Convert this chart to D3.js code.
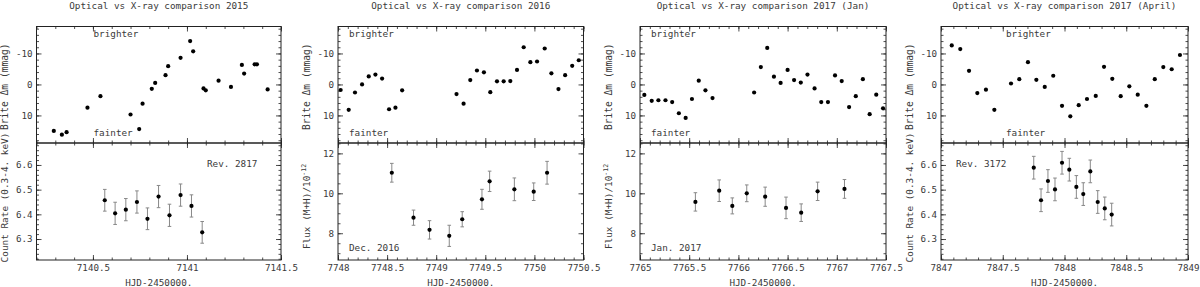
<!DOCTYPE html>
<html>
<head>
<meta charset="utf-8">
<script src="https://cdn.jsdelivr.net/npm/d3@7"></script>
<style>
  body { margin: 0; background: #fff; }
  svg { display: block; }
</style>
</head>
<body>
<div id="chart"></div>
<script>
// ---- values ----

// 2015 run
var opt2015Time = [7140.292, 7140.335, 7140.36, 7140.471, 7140.54, 7140.70, 7140.746, 7140.764, 7140.813, 7140.831, 7140.886, 7140.90, 7140.966, 7141.017, 7141.033, 7141.088, 7141.10, 7141.168, 7141.234, 7141.292, 7141.304, 7141.36, 7141.372, 7141.429];
var opt2015Mag = [15.0, 16.2, 15.4, 7.5, 3.8, 9.7, 14.4, 6.2, 1.4, -0.5, -3.0, -5.9, -8.6, -14.0, -10.7, 1.3, 1.9, -1.2, 0.8, -6.3, -3.5, -6.5, -6.5, 1.6];
var xr2015Time = [7140.563, 7140.618, 7140.675, 7140.734, 7140.79, 7140.849, 7140.907, 7140.966, 7141.024, 7141.081];
var xr2015Rate = [6.457, 6.404, 6.419, 6.45, 6.382, 6.472, 6.396, 6.478, 6.434, 6.327];
var xr2015Err = [0.044, 0.045, 0.045, 0.045, 0.044, 0.045, 0.045, 0.045, 0.045, 0.044];

// 2016 (Dec.)
var opt2016Time = [7748.027, 7748.109, 7748.173, 7748.245, 7748.313, 7748.381, 7748.449, 7748.52, 7748.585, 7748.653, 7749.207, 7749.279, 7749.347, 7749.415, 7749.486, 7749.551, 7749.619, 7749.687, 7749.755, 7749.823, 7749.891, 7749.959, 7750.027, 7750.105, 7750.173, 7750.245, 7750.313, 7750.385, 7750.452];
var opt2016Mag = [1.8, 8.2, 2.6, 0.0, -2.6, -3.2, -1.9, 8.0, 7.5, 1.9, 3.1, 6.2, -1.4, -4.5, -3.9, 2.5, -1.0, -1.0, -1.1, -4.7, -12.0, -7.2, -7.4, -11.6, -3.6, 1.5, -3.0, -6.0, -7.8];
var xr2016Time = [7748.548, 7748.769, 7748.932, 7749.133, 7749.265, 7749.466, 7749.544, 7749.796, 7749.993, 7750.129];
var xr2016Flux = [11.03, 8.78, 8.17, 7.87, 8.7, 9.7, 10.6, 10.2, 10.08, 11.03];
var xr2016Err = [0.47, 0.38, 0.46, 0.53, 0.38, 0.5, 0.51, 0.57, 0.44, 0.57];

// 2017 (Jan)
var opt2017aTime = [7765.044, 7765.119, 7765.187, 7765.259, 7765.327, 7765.395, 7765.464, 7765.528, 7765.597, 7765.665, 7765.737, 7766.16, 7766.228, 7766.293, 7766.361, 7766.429, 7766.5, 7766.566, 7766.634, 7766.702, 7766.774, 7766.842, 7766.91, 7766.982, 7767.05, 7767.125, 7767.193, 7767.265, 7767.334, 7767.401, 7767.47];
var opt2017aMag = [3.4, 5.3, 5.1, 5.1, 5.7, 9.3, 10.8, 4.7, -1.2, 1.9, 4.4, 2.6, -5.6, -11.8, -2.5, -0.5, -4.7, -1.4, -0.6, -3.2, 1.3, 5.7, 5.7, -2.9, -1.1, 7.3, 3.8, -1.7, 9.6, 3.3, 7.7];
var xr2017aTime = [7765.563, 7765.805, 7765.938, 7766.085, 7766.272, 7766.484, 7766.638, 7766.805, 7767.078];
var xr2017aFlux = [9.57, 10.13, 9.37, 10.0, 9.83, 9.27, 9.03, 10.1, 10.22];
var xr2017aErr = [0.46, 0.54, 0.4, 0.42, 0.48, 0.54, 0.44, 0.46, 0.47];

// 2017 (April)
var opt2017bTime = [7847.087, 7847.156, 7847.227, 7847.294, 7847.364, 7847.432, 7847.567, 7847.634, 7847.704, 7847.772, 7847.84, 7847.909, 7847.98, 7848.047, 7848.115, 7848.182, 7848.253, 7848.32, 7848.387, 7848.455, 7848.525, 7848.593, 7848.663, 7848.731, 7848.8, 7848.868, 7848.935];
var opt2017bMag = [-12.6, -11.4, -4.4, 2.8, 1.7, 8.2, -0.3, -1.7, -7.2, -1.5, 0.8, -2.8, 6.9, 10.3, 6.7, 4.7, 3.7, -5.7, -1.8, 3.8, 0.6, 3.3, 6.9, -1.7, -5.6, -4.9, -9.5];
var xr2017bTime = [7847.751, 7847.81, 7847.866, 7847.923, 7847.98, 7848.039, 7848.096, 7848.152, 7848.209, 7848.269, 7848.326, 7848.382];
var xr2017bRate = [6.589, 6.457, 6.535, 6.501, 6.609, 6.581, 6.511, 6.482, 6.574, 6.45, 6.424, 6.399];
var xr2017bErr = [0.046, 0.046, 0.046, 0.046, 0.046, 0.046, 0.046, 0.046, 0.046, 0.046, 0.046, 0.046];

// tick labels
var magTicks = [-10, 0, 10];
var rateTicks = [6.3, 6.4, 6.5, 6.6];
var fluxTicks = [8, 10, 12];
var hjdTicks2015 = [7140.5, 7141, 7141.5];
var hjdTicks2016 = [7748, 7748.5, 7749, 7749.5, 7750, 7750.5];
var hjdTicks2017a = [7765, 7765.5, 7766, 7766.5, 7767, 7767.5];
var hjdTicks2017b = [7847, 7847.5, 7848, 7848.5, 7849];

// ---- layout ----
var W = 1200, H = 287;
var TOP = 26.5, MID = 143, BOT = 260;
var FONT = '"DejaVu Sans Mono", monospace';
var INK = '#222';
var TEXT = '#3a3a3a';

var panels = [
    { title: 'Optical vs X-ray comparison 2015', left: 36.5, right: 281, xDomain: [7140.2, 7141.5], xTicks: hjdTicks2015,
      optT: opt2015Time, optM: opt2015Mag, xrT: xr2015Time, xrV: xr2015Rate, xrE: xr2015Err,
      kind: 'rate', note: 'Rev. 2817', noteX: 170.5, brightX: 57 },
    { title: 'Optical vs X-ray comparison 2016', left: 338, right: 583.5, xDomain: [7748, 7750.5], xTicks: hjdTicks2016,
      optT: opt2016Time, optM: opt2016Mag, xrT: xr2016Time, xrV: xr2016Flux, xrE: xr2016Err,
      kind: 'flux', note: 'Dec. 2016', noteX: 11, brightX: 11 },
    { title: 'Optical vs X-ray comparison 2017 (Jan)', left: 640, right: 886, xDomain: [7765, 7767.5], xTicks: hjdTicks2017a,
      optT: opt2017aTime, optM: opt2017aMag, xrT: xr2017aTime, xrV: xr2017aFlux, xrE: xr2017aErr,
      kind: 'flux', note: 'Jan. 2017', noteX: 11, brightX: 11 },
    { title: 'Optical vs X-ray comparison 2017 (April)', left: 941, right: 1188, xDomain: [7847, 7849], xTicks: hjdTicks2017b,
      optT: opt2017bTime, optM: opt2017bMag, xrT: xr2017bTime, xrV: xr2017bRate, xrE: xr2017bErr,
      kind: 'rate', note: 'Rev. 3172', noteX: 15, brightX: 65 }
];

var svg = d3.select('#chart').append('svg')
    .attr('width', W)
    .attr('height', H)
    .attr('font-family', FONT);

// regular steps inside a domain (minor tick positions)
function steps(domain, step) {
    var lo = Math.min(domain[0], domain[1]), hi = Math.max(domain[0], domain[1]);
    var n0 = Math.ceil(lo / step - 1e-6), n1 = Math.floor(hi / step + 1e-6);
    return d3.range(n0, n1 + 1).map(function(k) { return +(k * step).toFixed(6); });
}

// inward ticks on one side of a frame
function ticks(g, orient, scale, values, len, pos, fmt) {
    var maker = { bottom: d3.axisBottom, top: d3.axisTop, left: d3.axisLeft, right: d3.axisRight }[orient];
    var axis = maker(scale)
        .tickValues(values)
        .tickSizeInner(-len)
        .tickSizeOuter(0)
        .tickPadding(4)
        .tickFormat(fmt || function() { return ''; });
    var horiz = orient === 'bottom' || orient === 'top';
    var a = g.append('g')
        .attr('transform', horiz ? 'translate(0,' + pos + ')' : 'translate(' + pos + ',0)')
        .call(axis)
        .attr('font-family', FONT)
        .attr('font-size', '9.2px');
    a.select('.domain').remove();
    a.selectAll('line').attr('stroke', INK).attr('stroke-width', 0.8);
    a.selectAll('text').attr('fill', TEXT);
    return a;
}

function frameTicks(g, x, y, xMinor, xMajor, yMinor, yMajor, x0, x1, y0, y1, xFmt, yFmt) {
    ticks(g, 'top', x, xMinor, 2.5, y0);
    ticks(g, 'top', x, xMajor, 5, y0);
    ticks(g, 'bottom', x, xMinor, 2.5, y1);
    ticks(g, 'bottom', x, xMajor, 5, y1, xFmt);
    ticks(g, 'left', y, yMinor, 2.5, x0);
    ticks(g, 'left', y, yMajor, 5, x0, yFmt);
    ticks(g, 'right', y, yMinor, 2.5, x1);
    ticks(g, 'right', y, yMajor, 5, x1);
}

function label(g, x, y, txt, size, anchor) {
    return g.append('text')
        .attr('x', x).attr('y', y)
        .attr('text-anchor', anchor || 'start')
        .attr('font-size', size + 'px')
        .attr('fill', TEXT)
        .text(txt);
}

function drawPanel(p) {
    var g = svg.append('g');
    var x = d3.scaleLinear().domain(p.xDomain).range([p.left, p.right]);
    var yMag = d3.scaleLinear().domain([-18.7, 18.9]).range([TOP, MID]);
    var botDomain = p.kind === 'rate' ? [6.215, 6.689] : [6.66, 12.52];
    var yBot = d3.scaleLinear().domain(botDomain).range([BOT, MID]);

    var xMinor = steps(p.xDomain, 0.1);
    var num = function(d) { return String(d); };

    // top frame: Brite photometry (no x labels)
    frameTicks(g, x, yMag, xMinor, p.xTicks, steps(yMag.domain(), 2), magTicks,
        p.left, p.right, TOP, MID, null, num);

    // bottom frame: X-ray
    var isRate = p.kind === 'rate';
    frameTicks(g, x, yBot, xMinor, p.xTicks,
        steps(botDomain, isRate ? 0.02 : 0.5), isRate ? rateTicks : fluxTicks,
        p.left, p.right, MID, BOT, num,
        isRate ? function(d) { return d.toFixed(1); } : num);

    // frames
    g.append('rect')
        .attr('x', p.left).attr('y', TOP)
        .attr('width', p.right - p.left).attr('height', BOT - TOP)
        .attr('fill', 'none').attr('stroke', INK).attr('stroke-width', 1);
    g.append('line')
        .attr('x1', p.left).attr('x2', p.right)
        .attr('y1', MID).attr('y2', MID)
        .attr('stroke', INK).attr('stroke-width', 1.3);

    // optical points
    g.selectAll('.opt')
        .data(d3.zip(p.optT, p.optM))
        .enter()
        .append('circle')
        .attr('cx', function(d) { return x(d[0]); })
        .attr('cy', function(d) { return yMag(d[1]); })
        .attr('r', 2.1)
        .attr('fill', '#000');

    // X-ray points with error bars
    var eb = g.selectAll('.eb').data(d3.zip(p.xrT, p.xrV, p.xrE)).enter().append('g');
    eb.append('line')
        .attr('x1', function(d) { return x(d[0]); })
        .attr('x2', function(d) { return x(d[0]); })
        .attr('y1', function(d) { return yBot(d[1] - d[2]); })
        .attr('y2', function(d) { return yBot(d[1] + d[2]); })
        .attr('stroke', '#888').attr('stroke-width', 1);
    [-1, 1].forEach(function(s) {
        eb.append('line')
            .attr('x1', function(d) { return x(d[0]) - 1.8; })
            .attr('x2', function(d) { return x(d[0]) + 1.8; })
            .attr('y1', function(d) { return yBot(d[1] + s * d[2]); })
            .attr('y2', function(d) { return yBot(d[1] + s * d[2]); })
            .attr('stroke', '#888').attr('stroke-width', 1);
    });
    eb.append('circle')
        .attr('cx', function(d) { return x(d[0]); })
        .attr('cy', function(d) { return yBot(d[1]); })
        .attr('r', 2.1)
        .attr('fill', '#000');

    var cx = (p.left + p.right) / 2;
    label(g, cx, 9, p.title, 9.3, 'middle');
    label(g, cx, 285.5, 'HJD-2450000.', 9.3, 'middle');

    // y labels
    g.append('text')
        .attr('transform', 'translate(' + (p.left - 28.5) + ',' + ((TOP + MID) / 2 + 2) + ') rotate(-90)')
        .attr('text-anchor', 'middle')
        .attr('font-size', '9.6px')
        .attr('fill', TEXT)
        .text('Brite \u0394m (mmag)');

    var yl = g.append('text')
        .attr('transform', 'translate(' + (p.left - 28.5) + ',' + ((MID + BOT) / 2 + (isRate ? -4 : 5)) + ') rotate(-90)')
        .attr('text-anchor', 'middle')
        .attr('font-size', '9.4px')
        .attr('fill', TEXT);
    if (isRate) {
        yl.text('Count Rate (0.3-4. keV)');
    } else {
        yl.append('tspan').text('Flux (M+H)/10');
        yl.append('tspan').attr('baseline-shift', 'super').attr('font-size', '6.5px').text('-12');
    }

    // brighter / fainter
    label(g, p.left + p.brightX, TOP + 10, 'brighter', 9.3);
    label(g, p.left + p.brightX, MID - 7.5, 'fainter', 9.3);

    // run note
    label(g, p.left + p.noteX, isRate ? MID + 23.5 : BOT - 9.5, p.note, 9.3);
}

panels.forEach(drawPanel);
</script>
</body>
</html>
